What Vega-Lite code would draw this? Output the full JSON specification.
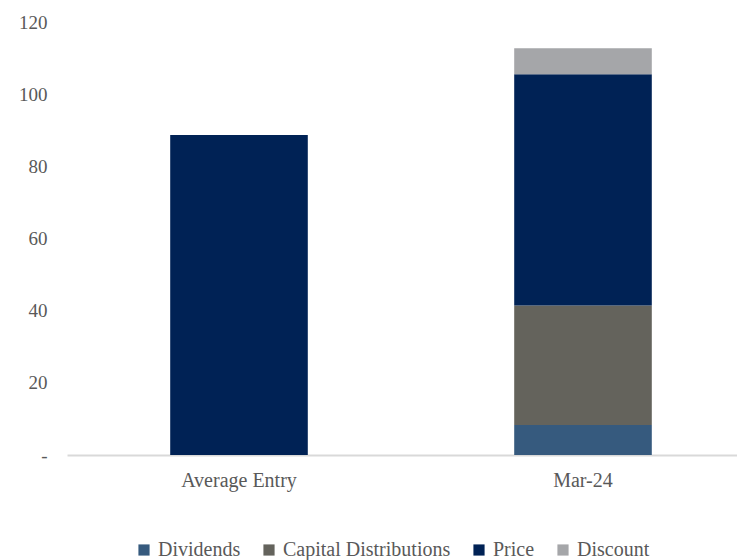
{
  "$schema": "https://vega.github.io/schema/vega-lite/v6.json",
  "autosize": {"type": "none"},
  "padding": {"left": 67, "right": 0, "top": 22, "bottom": 105},
  "width": 670,
  "height": 433,
  "background": "white",
  "config": {
    "view": {"stroke": null},
    "font": "Liberation Serif",
    "legend": {"labelFont": "Liberation Serif", "labelFontSize": 20}
  },
  "data": {
    "values": [
      {"period": "Average Entry", "component": "Price", "value": 88.7},
      {"period": "Mar-24", "component": "Dividends", "value": 8.3},
      {"period": "Mar-24", "component": "Capital Distributions", "value": 33.1},
      {"period": "Mar-24", "component": "Price", "value": 64.1},
      {"period": "Mar-24", "component": "Discount", "value": 7.2}
    ]
  },
  "transform": [
    {"calculate": "indexof(['Dividends','Capital Distributions','Price','Discount'], datum.component)", "as": "stackOrder"}
  ],
  "mark": {"type": "bar"},
  "encoding": {
    "x": {
      "field": "period",
      "type": "nominal",
      "sort": ["Average Entry", "Mar-24"],
      "scale": {"range": [0, 688], "paddingInner": 0.6, "paddingOuter": 0.3},
      "axis": {
        "title": null,
        "labelAngle": 0,
        "ticks": false,
        "domainColor": "#d9d9d9",
        "domainWidth": 2,
        "labelFont": "Liberation Serif",
        "labelFontSize": 20,
        "labelColor": "#595959",
        "labelPadding": 15
      }
    },
    "y": {
      "field": "value",
      "type": "quantitative",
      "stack": "zero",
      "scale": {"domain": [0, 120], "nice": false},
      "axis": {
        "title": null,
        "values": [0, 20, 40, 60, 80, 100, 120],
        "labelExpr": "datum.value == 0 ? '-' : datum.label",
        "grid": false,
        "domain": false,
        "ticks": false,
        "labelFont": "Liberation Serif",
        "labelFontSize": 19,
        "labelColor": "#595959",
        "labelPadding": 20
      }
    },
    "color": {
      "field": "component",
      "type": "nominal",
      "sort": ["Dividends", "Capital Distributions", "Price", "Discount"],
      "scale": {
        "domain": ["Dividends", "Capital Distributions", "Price", "Discount"],
        "range": ["#365a7e", "#64635c", "#002255", "#a5a6a9"]
      },
      "legend": {
        "title": null,
        "orient": "none",
        "legendX": 67,
        "legendY": 518,
        "direction": "horizontal",
        "symbolType": "square",
        "symbolSize": 125,
        "symbolStrokeWidth": 0,
        "labelFont": "Liberation Serif",
        "labelFontSize": 20,
        "labelLimit": 400,
        "labelColor": "#595959",
        "labelOffset": 4,
        "columnPadding": 18
      }
    },
    "order": {"field": "stackOrder", "type": "quantitative", "sort": "ascending"}
  }
}
